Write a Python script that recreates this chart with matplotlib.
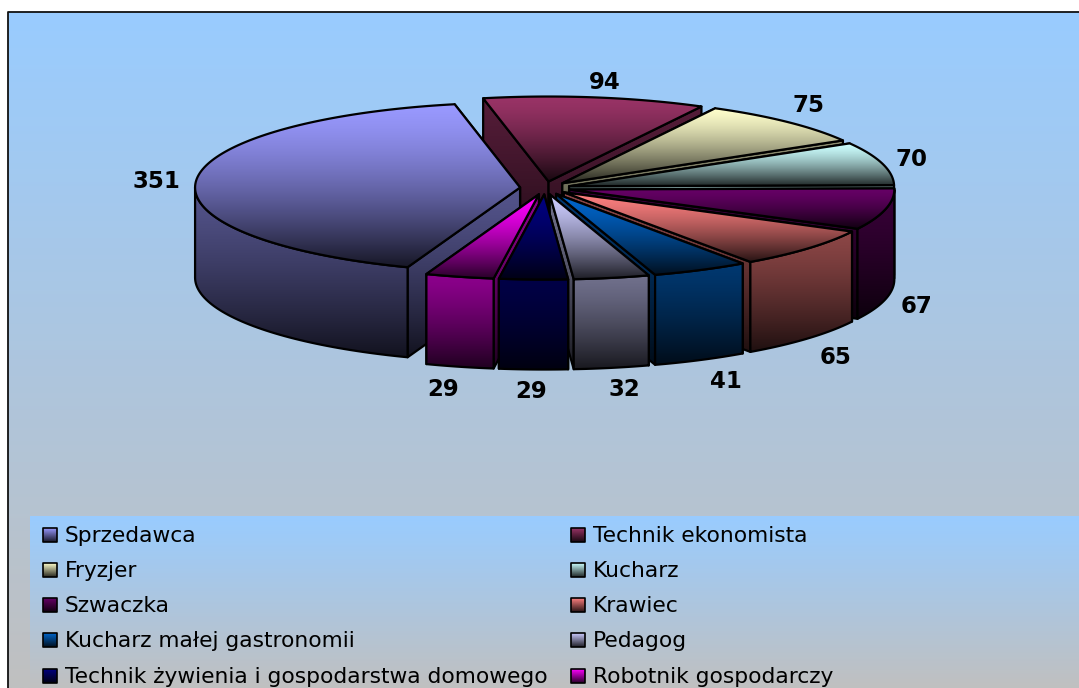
import matplotlib
matplotlib.use("Agg")
import matplotlib.pyplot as plt
import numpy as np
from matplotlib.colors import to_rgb
from matplotlib.patches import Polygon

categories = ["Sprzedawca", "Technik ekonomista", "Fryzjer", "Kucharz", "Szwaczka",
              "Krawiec", "Kucharz małej gastronomii", "Pedagog",
              "Technik żywienia i gospodarstwa domowego", "Robotnik gospodarczy"]
values = [351, 94, 75, 70, 67, 65, 41, 32, 29, 29]
colors = ["#9999FF", "#993366", "#FFFFCC", "#CCFFFF", "#660066",
          "#FF8080", "#0066CC", "#CCCCFF", "#000080", "#FF00FF"]

W, H = 1079, 688
BG_TOP, BG_BOTTOM = "#99CCFF", "#C0C0C0"

# pie geometry in pixels
CX, CY = 545, 188
RX, RY = 325, 85
DEPTH = 90
EXPLODE = 25
START = -159.75  # degrees clockwise from the top


def shade(color, k):
    return np.array(to_rgb(color)) * k


def ramp(c_top, c_bottom, gamma=1.0):
    t = np.linspace(0, 1, 256)[:, None, None] ** gamma
    return np.asarray(c_top)[None, None, :] * (1 - t) + np.asarray(c_bottom)[None, None, :] * t


def gradient_poly(ax, verts, c_top, c_bottom, zorder, lw=1.6, gamma=1.0):
    # vertical gradient over the polygon's own bounding box, with black outline
    verts = np.asarray(verts)
    x0, y0 = verts.min(axis=0)
    x1, y1 = verts.max(axis=0)
    im = ax.imshow(ramp(c_top, c_bottom, gamma), extent=(x0, x1, y1, y0), aspect="auto",
                   zorder=zorder, interpolation="bilinear")
    patch = Polygon(verts, closed=True, transform=ax.transData, fc="none", ec="black",
                    lw=lw, zorder=zorder + 0.5, joinstyle="round")
    ax.add_patch(patch)
    im.set_clip_path(patch)


fig = plt.figure(figsize=(W / 100, H / 100), dpi=100)
ax = fig.add_axes([0, 0, 1, 1])
ax.axis("off")

# chart area and legend band
ax.imshow(ramp(to_rgb(BG_TOP), to_rgb(BG_BOTTOM)), extent=(8, W, H, 12), aspect="auto",
          zorder=0, interpolation="bilinear")
ax.imshow(ramp(to_rgb(BG_TOP), to_rgb(BG_BOTTOM)), extent=(30, W, H, 516), aspect="auto",
          zorder=1, interpolation="bilinear")
ax.plot([8, 8, W], [H, 12, 12], color="#111111", lw=1.3, zorder=2)

vals = np.array(values, dtype=float)
sweeps = vals / vals.sum() * 360
starts = START + np.concatenate([[0], np.cumsum(sweeps)[:-1]])
mids = starts + sweeps / 2

# nudges for the data labels, in pixels
label_dx = [-15, 6, 4, 5, 7, 9, 14, 8, -1, -10]
label_dy = [2, 6, -1, 2, 2, 5, 2, 1, 1, 2]

# paint from the back of the pie to the front
z = 10
order = np.argsort(-np.cos(np.radians(mids)))
for i in order:
    mid = np.radians(mids[i])
    ox = CX + EXPLODE * np.sin(mid)
    oy = CY - EXPLODE * RY / RX * np.cos(mid)
    th = np.radians(np.linspace(starts[i], starts[i] + sweeps[i], 120))
    ax_x = ox + RX * np.sin(th)
    ax_y = oy - RY * np.cos(th)
    side_top = shade(colors[i], 0.55)
    side_bottom = shade(colors[i], 0.12)

    # the two cut faces, the one nearer the viewer last
    for k in sorted((0, -1), key=lambda n: ax_y[n]):
        face = [(ox, oy), (ax_x[k], ax_y[k]), (ax_x[k], ax_y[k] + DEPTH), (ox, oy + DEPTH)]
        gradient_poly(ax, face, side_top, side_bottom, z, gamma=1.3)
        z += 1

    # outer wall, front half only
    front = np.cos(th) <= 0
    if front.sum() > 1:
        wx, wy = ax_x[front], ax_y[front]
        wall = np.column_stack([np.r_[wx, wx[::-1]], np.r_[wy, wy[::-1] + DEPTH]])
        gradient_poly(ax, wall, side_top, side_bottom, z, gamma=1.3)
        z += 1

    # top face
    top = np.column_stack([np.r_[ox, ax_x], np.r_[oy, ax_y]])
    gradient_poly(ax, top, shade(colors[i], 1.0), shade(colors[i], 0.15), z, gamma=1.4)
    z += 1

# data labels
for i, v in enumerate(values):
    mid = np.radians(mids[i])
    c = np.cos(mid)
    lx = CX + 375 * np.sin(mid) + label_dx[i]
    ly = CY - 113 * c + (DEPTH if c < 0 else 0) + label_dy[i]
    ax.text(lx, ly, str(v), fontsize=16.5, fontweight="bold", color="black",
            ha="center", va="center", zorder=z + 1)

# legend, two columns
rows_y = [535, 570, 605, 640, 676]
col_x = [50, 578]
for i, name in enumerate(categories):
    mx = col_x[i % 2]
    my = rows_y[i // 2]
    box = [(mx - 7, my - 7), (mx + 7, my - 7), (mx + 7, my + 7), (mx - 7, my + 7)]
    gradient_poly(ax, box, shade(colors[i], 1.0), shade(colors[i], 0.15), z + 2, lw=1.2)
    ax.text(mx + 15, my + 7, name, fontsize=15.7, color="black", ha="left", va="baseline",
            zorder=z + 3)

ax.set_xlim(0, W)
ax.set_ylim(H, 0)
fig.savefig("out.png", dpi=100, facecolor="white")
